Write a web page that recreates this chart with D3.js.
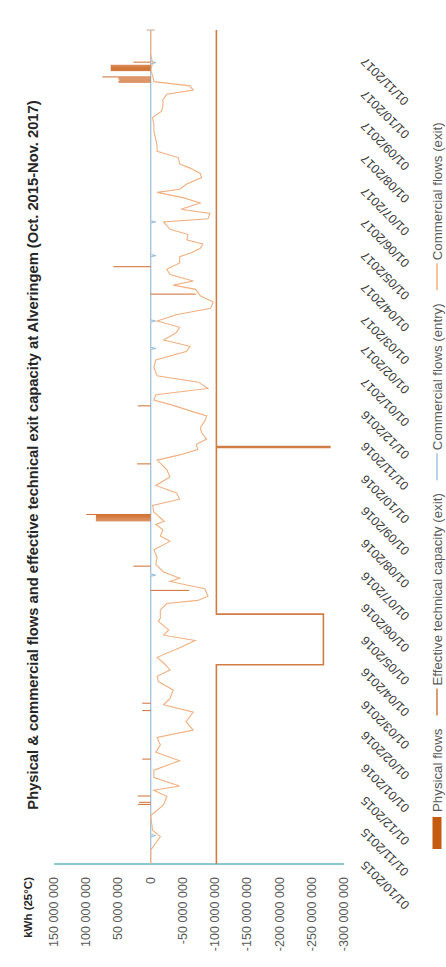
<!DOCTYPE html>
<html><head><meta charset="utf-8">
<script src="https://cdn.jsdelivr.net/npm/d3@7"></script>
<style>html,body{margin:0;padding:0;background:#fff;} svg{display:block;}</style>
</head><body>
<svg id="chart" width="446" height="967"></svg>
<script>
const titleText = "Physical & commercial flows and effective technical exit capacity at Alveringem (Oct. 2015-Nov. 2017)";
const unitLabel = "kWh (25°C)";
const valueTicks = [150e6,100e6,50e6,0,-50e6,-100e6,-150e6,-200e6,-250e6,-300e6];
const dateTickLabels = ["01/10/2015","01/11/2015","01/12/2015","01/01/2016","01/02/2016","01/03/2016","01/04/2016","01/05/2016","01/06/2016","01/07/2016","01/08/2016","01/09/2016","01/10/2016","01/11/2016","01/12/2016","01/01/2017","01/02/2017","01/03/2017","01/04/2017","01/05/2017","01/06/2017","01/07/2017","01/08/2017","01/09/2017","01/10/2017","01/11/2017"];
const legendLabels = ["Physical flows","Effective technical capacity (exit)","Commercial flows (entry)","Commercial flows (exit)"];

const capDates = ["2015-10-01","2016-04-07","2016-05-25","2016-10-30","2016-10-31","2017-11-30"];
const capValues = [-102e6,-268e6,-102e6,-278e6,-102e6,-102e6];

const physDates = ["2015-11-26","2015-11-28","2015-12-04","2016-01-08","2016-02-23","2016-03-01","2016-06-16","2016-07-09",
  "2016-08-21","2016-08-22","2016-08-23","2016-08-24","2016-08-25","2016-08-26","2016-08-27",
  "2016-10-14","2016-12-08","2017-03-24","2017-04-19",
  "2017-10-11","2017-10-12","2017-10-13","2017-10-14","2017-10-15","2017-10-16",
  "2017-10-22","2017-10-23","2017-10-24","2017-10-25","2017-10-26","2017-10-27","2017-10-30"];
const physValues = [20e6,18e6,20e6,13e6,13e6,13e6,-60e6,27e6,
  85e6,85e6,85e6,85e6,85e6,85e6,100e6,
  21e6,20e6,-70e6,58e6,
  50e6,50e6,48e6,50e6,50e6,75e6,
  62e6,62e6,62e6,62e6,62e6,62e6,27e6];

const entryDates = ["2015-10-01","2015-10-27","2015-10-28","2015-10-29","2016-06-30","2016-07-01","2016-07-02",
  "2017-01-31","2017-02-01","2017-02-02","2017-02-26","2017-02-27","2017-02-28","2017-04-29","2017-04-30","2017-05-01",
  "2017-05-31","2017-06-01","2017-06-02","2017-10-29","2017-10-30","2017-10-31","2017-11-30"];
const entryValues = [0,0,-8e6,0,0,-8e6,0,0,-8e6,0,0,-8e6,0,0,-8e6,0,0,-8e6,0,0,-8e6,0,0];

const exitDates = ["2015-10-01","2015-10-14","2015-10-27","2015-11-02","2015-11-16","2015-11-26","2015-12-04","2015-12-10","2015-12-14","2015-12-22","2015-12-29",
"2016-01-07","2016-01-15","2016-01-22","2016-01-29","2016-02-05","2016-02-13","2016-02-22","2016-02-29","2016-03-06","2016-03-14","2016-03-22","2016-03-27",
"2016-04-02","2016-04-07","2016-04-14","2016-04-23","2016-04-30","2016-05-05","2016-05-10","2016-05-18","2016-05-21","2016-05-29","2016-06-04","2016-06-07",
"2016-06-11","2016-06-18","2016-06-25","2016-06-28","2016-07-04","2016-07-11","2016-07-18","2016-07-25","2016-08-02","2016-08-07","2016-08-13","2016-08-18",
"2016-08-21","2016-08-30","2016-09-05","2016-09-11","2016-09-17","2016-09-24","2016-10-02","2016-10-09","2016-10-18","2016-10-23","2016-10-28","2016-11-02",
"2016-11-07","2016-11-13","2016-11-18","2016-11-24","2016-11-29","2016-12-04","2016-12-09","2016-12-14","2016-12-19","2016-12-25","2016-12-31",
"2017-01-06","2017-01-14","2017-01-21","2017-01-29","2017-02-03","2017-02-09","2017-02-16","2017-02-21","2017-02-27","2017-03-05","2017-03-11","2017-03-17",
"2017-03-23","2017-03-29","2017-04-02","2017-04-06","2017-04-12","2017-04-17","2017-04-23","2017-04-29","2017-05-03","2017-05-07","2017-05-11","2017-05-15",
"2017-05-20","2017-05-25","2017-06-01","2017-06-04","2017-06-09","2017-06-13","2017-06-19","2017-06-24","2017-06-29","2017-07-02","2017-07-07","2017-07-13",
"2017-07-17","2017-07-22","2017-07-26","2017-08-01","2017-08-07","2017-08-12","2017-08-18","2017-08-26","2017-09-01","2017-09-08","2017-09-14","2017-09-19",
"2017-09-25","2017-09-30","2017-10-04","2017-10-08","2017-10-12","2017-10-18","2017-10-23","2017-10-30","2017-11-07","2017-11-16","2017-11-30"];
const exitValues = [0,0,-15e6,-3e6,0,-20e6,-25e6,-5e6,-45e6,-5e6,-5e6,
-45e6,-8e6,-15e6,-10e6,-66e6,-55e6,-66e6,-20e6,-30e6,-35e6,-12e6,-10e6,
-30e6,-23e6,-10e6,-45e6,-69e6,-20e6,-28e6,-12e6,-15e6,-15e6,-25e6,-73e6,
-89e6,-84e6,-30e6,-45e6,-20e6,-8e6,-10e6,-5e6,-30e6,-15e6,-19e6,-8e6,
-21e6,-5e6,-3e6,-45e6,-40e6,-8e6,-30e6,-25e6,-10e6,-45e6,-73e6,-71e6,
-87e6,-79e6,-77e6,-84e6,-87e6,-60e6,-35e6,-5e6,-8e6,-89e6,-74e6,
-10e6,-5e6,-8e6,-55e6,-61e6,-20e6,-40e6,-45e6,-10e6,-40e6,-93e6,-97e6,
-77e6,-70e6,-35e6,-66e6,-30e6,-25e6,-45e6,-45e6,-64e6,-77e6,-81e6,-56e6,
-58e6,-30e6,-20e6,-89e6,-92e6,-47e6,-77e6,-50e6,-10e6,-45e6,-56e6,-79e6,
-77e6,-61e6,-45e6,-43e6,-10e6,-10e6,-8e6,-5e6,-5e6,-3e6,-17e6,-19e6,
-19e6,-25e6,-66e6,-61e6,-5e6,-3e6,0,-3e6,0,0,0];

const colPhys = "#d27639", colCap = "#cf7c45", colEntry = "#9cc4e4", colExit = "#f2b081", colAxis = "#63b7c7";
const FONT = "'Liberation Sans', Arial, sans-serif";

const parseISO = d3.timeParse("%Y-%m-%d");
const parseTick = d3.timeParse("%d/%m/%Y");

const svg = d3.select("#chart");
svg.append("rect").attr("width",446).attr("height",967).attr("fill","#fff");
const g = svg.append("g").attr("transform", `translate(0,967) rotate(-90)`);

const x = d3.scaleTime().domain([parseISO("2015-10-01"), parseISO("2017-11-30")]).range([103, 937]);
const y = d3.scaleLinear().domain([150e6, -300e6]).range([54, 344]);

const loc = d3.formatLocale({decimal: ",", thousands: " ", grouping: [3], currency: ["", ""], minus: "-"});
const fmt = loc.format(",d");

function fit(sel, target){ const w = sel.node().getComputedTextLength(); sel.attr("font-size", parseFloat(sel.attr("font-size"))*target/w); }

// title
const title = g.append("text").attr("x", 512).attr("y", 38).attr("text-anchor","middle")
  .attr("font-family", FONT).attr("font-weight","bold").attr("font-size", 13).attr("fill","#262626").text(titleText);
fit(title, 710);

// unit label
g.append("text").attr("x", 90).attr("y", 28).attr("text-anchor","end").attr("dominant-baseline","central")
  .attr("font-family", FONT).attr("font-weight","bold").attr("font-size", 11.5).attr("fill","#262626").text(unitLabel);

// value axis labels
const vl = g.append("g").selectAll("text").data(valueTicks).join("text")
  .attr("x", 90).attr("y", d => y(d)).attr("text-anchor","end").attr("dominant-baseline","central")
  .attr("font-family", FONT).attr("font-size", 12).attr("fill","#595959").text(d => fmt(d));
{ const n = vl.nodes()[0]; const w = n.getComputedTextLength(); vl.attr("font-size", 12*70/w); }

// value axis line (teal)
g.append("line").attr("x1", x.range()[0]).attr("x2", x.range()[0]).attr("y1", y(150e6)).attr("y2", y(-300e6))
  .attr("stroke", colAxis).attr("stroke-width", 1.5);

// zero line
g.append("line").attr("x1", x.range()[0]).attr("x2", x.range()[1]).attr("y1", y(0)).attr("y2", y(0))
  .attr("stroke", "#eec3a2").attr("stroke-width", 1);
g.append("line").attr("x1", x.range()[1]).attr("x2", x.range()[1]).attr("y1", y(0) - 4).attr("y2", y(0) + 4)
  .attr("stroke", "#c9a58a").attr("stroke-width", 1);

// date labels
const tickDates = dateTickLabels.map(parseTick);
g.append("g").selectAll("text").data(dateTickLabels).join("text")
  .attr("transform", (d,i) => `translate(${x(tickDates[i]) + 4},366) rotate(-45)`)
  .attr("text-anchor","end").attr("font-family", FONT).attr("font-size", 12.5).attr("fill","#3a3a3a").text(d => d);

// commercial entry line
const entryData = entryDates.map((d,i) => ({date: parseISO(d), v: entryValues[i]}));
g.append("path").datum(entryData).attr("fill","none").attr("stroke", colEntry).attr("stroke-width", 1.2)
  .attr("d", d3.line().x(d => x(d.date)).y(d => y(d.v)));

// commercial exit line
const exitData = exitDates.map((d,i) => ({date: parseISO(d), v: exitValues[i]}));
g.append("path").datum(exitData).attr("fill","none").attr("stroke", colExit).attr("stroke-width", 1.1)
  .attr("d", d3.line().x(d => x(d.date)).y(d => y(d.v)));

// physical flow bars
const physData = physDates.map((d,i) => ({date: parseISO(d), v: physValues[i]}));
g.append("g").selectAll("rect").data(physData).join("rect")
  .attr("x", d => x(d.date)).attr("width", d => x(d3.timeDay.offset(d.date,1)) - x(d.date))
  .attr("y", d => y(Math.max(0, d.v))).attr("height", d => Math.abs(y(d.v) - y(0)))
  .attr("fill", colPhys);

// capacity step line
const capData = capDates.map((d,i) => ({date: parseISO(d), v: capValues[i]}));
g.append("path").datum(capData).attr("fill","none").attr("stroke", colCap).attr("stroke-width", 1.6)
  .attr("d", d3.line().curve(d3.curveStepAfter).x(d => x(d.date)).y(d => y(d.v)));

// legend
const ly = 437;
const lg = g.append("g");
let cx = 118;
const items = [
  {type:"rect", color: "#c55a11", label: legendLabels[0]},
  {type:"line", color: colCap, label: legendLabels[1]},
  {type:"line", color: colEntry, label: legendLabels[2]},
  {type:"line", color: colExit, label: legendLabels[3]}
];
const probe = lg.append("text").attr("font-family", FONT).attr("font-size", 11).text(legendLabels[2]);
const legFs = 11 * 147 / probe.node().getComputedTextLength();
probe.remove();
items.forEach((it) => {
  if (it.type === "rect") {
    lg.append("rect").attr("x", cx).attr("y", ly - 4.5).attr("width", 32).attr("height", 9).attr("fill", it.color);
    cx += 37;
  } else {
    lg.append("line").attr("x1", cx).attr("x2", cx + 27).attr("y1", ly).attr("y2", ly).attr("stroke", it.color).attr("stroke-width", 1.5);
    cx += 30;
  }
  const t = lg.append("text").attr("x", cx).attr("y", ly).attr("dominant-baseline","central")
    .attr("font-family", FONT).attr("font-size", legFs).attr("fill","#595959").text(it.label);
  cx += t.node().getComputedTextLength() + 13;
});
</script>
</body></html>
